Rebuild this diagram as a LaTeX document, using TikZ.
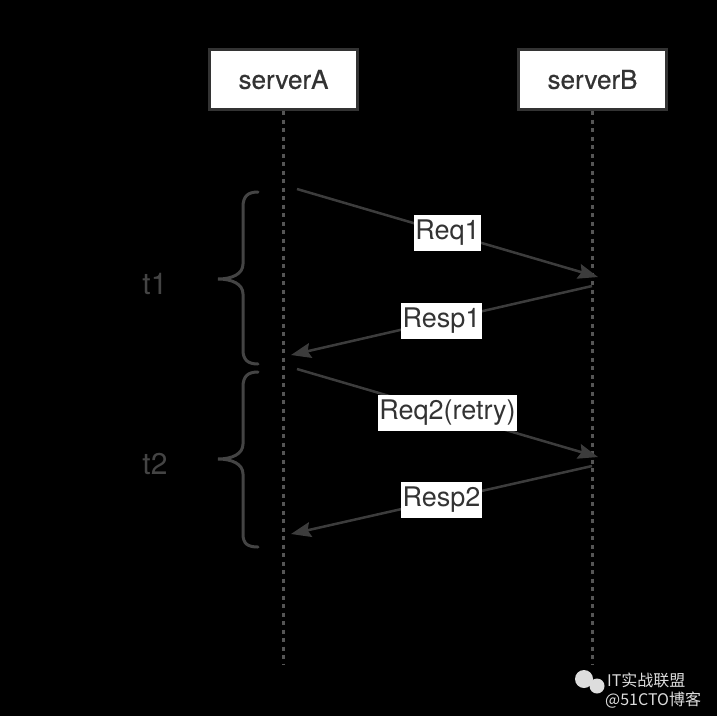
\documentclass[tikz,border=0pt]{standalone}
\usepackage{fontspec}
\setmainfont{TeX Gyre Heros}
\newfontfamily\cjk{Noto Sans CJK SC}
\usetikzlibrary{arrows.meta}
\definecolor{boxline}{HTML}{333333}
\definecolor{life}{HTML}{555555}
\definecolor{arr}{HTML}{3C3C3C}
\definecolor{brc}{HTML}{444444}
\definecolor{txt}{HTML}{333333}
\definecolor{wm}{HTML}{DDDDDD}
\tikzset{
  server/.style={draw=boxline, line width=3pt, fill=white, minimum width=148pt, minimum height=60pt, inner sep=0pt, text=txt, font=\fontsize{26}{30}\selectfont\addfontfeature{FakeBold=0.6}},
  lifeline/.style={draw=life, line width=3pt, dash pattern=on 4pt off 4.5pt},
  msg/.style={draw=arr, line width=2.5pt, -{Stealth[length=20pt,width=15pt,inset=3pt]}},
  lbl/.style={fill=white, text=txt, inner xsep=1.5pt, inner ysep=0pt, minimum height=36pt, font=\fontsize{27}{32}\selectfont},
  brace/.style={draw=brc, line width=3pt, line cap=round},
  tlabel/.style={text=brc, font=\fontsize{30}{36}\selectfont},
  wmtext/.style={text=wm, font=\cjk\fontsize{16}{18}\selectfont, inner sep=0pt}
}
\begin{document}
\begin{tikzpicture}[x=1pt,y=-1pt]
\useasboundingbox (0,0) rectangle (717,716);
\fill[black] (0,0) rectangle (717,716);
% servers
\node[server] (A) at (283.5,79.5) {serverA};
\node[server] (B) at (592.5,79.5) {serverB};
% lifelines
\coordinate (Aend) at (283.5,665);
\coordinate (Bend) at (592.5,665);
\draw[lifeline] (A.south) -- (Aend);
\draw[lifeline] (B.south) -- (Bend);
% message endpoints
\coordinate (r1s) at (297,189);
\coordinate (r1e) at (598,277);
\coordinate (p1s) at (592,286);
\coordinate (p1e) at (291,355);
\coordinate (r2s) at (297,369);
\coordinate (r2e) at (598,457);
\coordinate (p2s) at (592,466);
\coordinate (p2e) at (291,534);
\draw[msg] (r1s) -- (r1e) node[lbl, midway] (l1) {Req1};
\draw[msg] (p1s) -- (p1e) node[lbl, midway] (l2) {Resp1};
\draw[msg] (r2s) -- (r2e) node[lbl, midway] (l3) {Req2(retry)};
\draw[msg] (p2s) -- (p2e) node[lbl, midway] (l4) {Resp2};
% braces
\draw[brace] (258,192) .. controls (248,192) and (243,196) .. (243,207)
  -- (243,264) .. controls (243,274) and (232,279) .. (218,279)
  .. controls (232,279) and (243,284) .. (243,294)
  -- (243,350) .. controls (243,360) and (248,364) .. (258,364);
\draw[brace] (258,372) .. controls (248,372) and (243,376) .. (243,387)
  -- (243,444) .. controls (243,454) and (232,459) .. (218,459)
  .. controls (232,459) and (243,464) .. (243,474)
  -- (243,534) .. controls (243,544) and (248,547) .. (258,547);
\node[tlabel] (t1) at (155,284) {t1};
\node[tlabel] (t2) at (155,464) {t2};
% watermark
\fill[wm] (584,679) circle (9pt);
\fill[wm] (597,686) circle (7.5pt);
\node[wmtext, anchor=west] (w1) at (607,680) {IT实战联盟};
\node[wmtext, anchor=west] (w2) at (605,700) {@51CTO博客};
\end{tikzpicture}
\end{document}
